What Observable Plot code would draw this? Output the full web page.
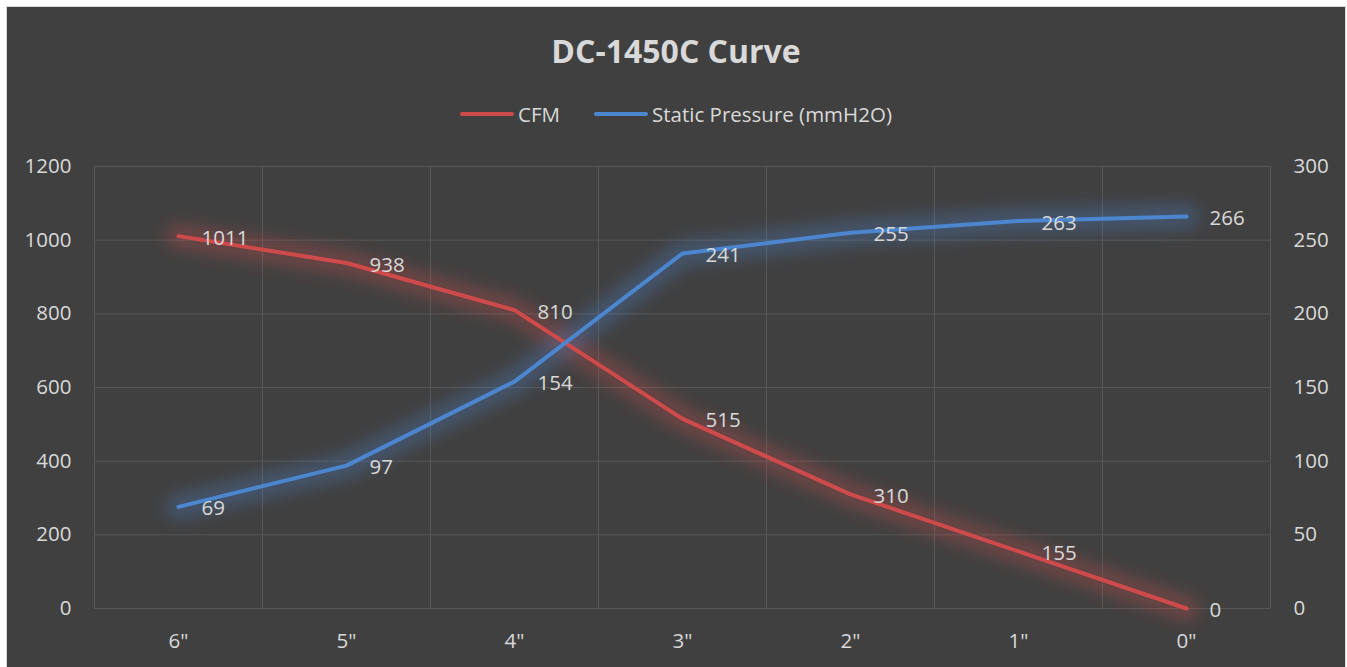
<!DOCTYPE html>
<html><head><meta charset="utf-8">
<script src="https://cdn.jsdelivr.net/npm/d3@7"></script>
<script src="https://cdn.jsdelivr.net/npm/@observablehq/plot@0.6"></script>
<style>
body{margin:0;background:#fff;}
#panel{position:absolute;left:6px;top:6px;width:1338px;height:661px;background:#404040;border:1px solid #d9d9d9;border-bottom:none;overflow:hidden;font-family:"Open Sans",sans-serif;color:#d9d9d9;}
#title{height:88px;line-height:88px;text-align:center;font-weight:bold;font-size:32px;}
#legend{height:38px;line-height:38px;display:flex;justify-content:center;align-items:center;font-size:20.5px;padding-left:0px;}
.item{display:flex;align-items:center;margin:0 17px;}
.sw{display:inline-block;width:54px;height:4px;border-radius:2px;margin-right:4px;}
#chart svg{display:block;}
</style></head>
<body>
<div id="panel">
  <div id="title">DC-1450C Curve</div>
  <div id="legend"></div>
  <div id="chart"></div>
</div>
<script>
const categories = ['6"', '5"', '4"', '3"', '2"', '1"', '0"'];
const cfm = [1011, 938, 810, 515, 310, 155, 0];
const staticPressure = [69, 97, 154, 241, 255, 263, 266];
const leftTicks = [0, 200, 400, 600, 800, 1000, 1200];
const rightTicks = [0, 50, 100, 150, 200, 250, 300];
const seriesNames = ["CFM", "Static Pressure (mmH2O)"];
const colors = ["#cf4b4b", "#4b86cf"];

const ratio = 1200 / 300;
const cfmData = categories.map((c, i) => ({i, v: cfm[i], label: String(cfm[i])}));
const spData = categories.map((c, i) => ({i, v: staticPressure[i] * ratio, label: String(staticPressure[i])}));
const boundaries = d3.range(categories.length + 1).map(k => k - 0.5);
const FS = 20.5;

const legend = document.getElementById("legend");
seriesNames.forEach((n, k) => {
  const it = document.createElement("span");
  it.className = "item";
  it.innerHTML = `<span class="sw" style="background:${colors[k]}"></span><span>${n}</span>`;
  legend.appendChild(it);
});

const lineOpts = {x: "i", y: "v", strokeLinecap: "round", strokeLinejoin: "round"};
const plot = Plot.plot({
  width: 1338,
  height: 534,
  marginTop: 33,
  marginBottom: 59,
  marginLeft: 87,
  marginRight: 75,
  style: {background: "transparent", color: "#d9d9d9", fontFamily: "Open Sans, sans-serif", fontSize: FS + "px", overflow: "visible"},
  x: {type: "linear", domain: [-0.5, categories.length - 0.5]},
  y: {domain: [0, 1200]},
  marks: [
    Plot.ruleY(leftTicks, {stroke: "#575757", strokeWidth: 1}),
    Plot.ruleX(boundaries, {stroke: "#575757", strokeWidth: 1}),
    Plot.axisX(d3.range(categories.length), {tickSize: 0, tickPadding: 25, tickFormat: i => categories[i], fill: "#d9d9d9", fontSize: FS, label: null}),
    Plot.axisY(leftTicks, {anchor: "left", tickSize: 0, tickPadding: 23, tickFormat: d => String(d), fill: "#d9d9d9", fontSize: FS, label: null}),
    Plot.axisY(rightTicks.map(v => v * ratio), {anchor: "right", tickSize: 0, tickPadding: 23, tickFormat: d => String(d / ratio), fill: "#d9d9d9", fontSize: FS, label: null}),
    Plot.line(cfmData, {...lineOpts, stroke: colors[0], strokeWidth: 26, strokeOpacity: 0.3, className: "glow"}),
    Plot.line(spData, {...lineOpts, stroke: colors[1], strokeWidth: 26, strokeOpacity: 0.3, className: "glow"}),
    Plot.line(cfmData, {...lineOpts, stroke: colors[0], strokeWidth: 4}),
    Plot.line(spData, {...lineOpts, stroke: colors[1], strokeWidth: 4}),
    Plot.text(cfmData, {x: "i", y: "v", text: "label", dx: 23, dy: 2, textAnchor: "start", fill: "#d9d9d9", fontSize: FS}),
    Plot.text(spData, {x: "i", y: "v", text: "label", dx: 23, dy: 2, textAnchor: "start", fill: "#d9d9d9", fontSize: FS})
  ]
});
// soft glow filter for the wide under-strokes
const svg = d3.select(plot);
const defs = svg.insert("defs", ":first-child");
const f = defs.append("filter").attr("id", "glowblur").attr("filterUnits", "userSpaceOnUse")
  .attr("x", 0).attr("y", 0).attr("width", 1338).attr("height", 534);
f.append("feGaussianBlur").attr("stdDeviation", 8);
svg.selectAll("g.glow").attr("filter", "url(#glowblur)");
document.getElementById("chart").appendChild(plot);
</script>
</body></html>
